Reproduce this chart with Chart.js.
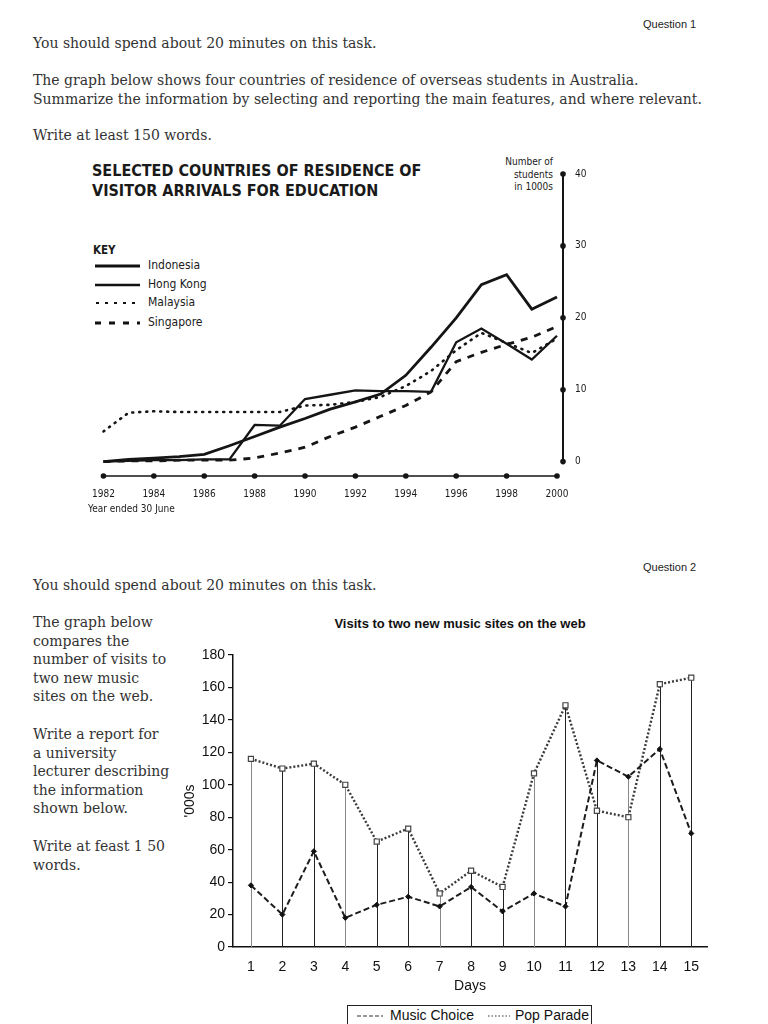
<!DOCTYPE html>
<html>
<head>
<meta charset="utf-8">
<script src="https://cdn.jsdelivr.net/npm/chart.js@4.4.1/dist/chart.umd.min.js"></script>
<style>
  html, body { margin: 0; padding: 0; background: #fff; }
  #page { position: relative; width: 768px; height: 1024px; overflow: hidden; }
  .t { position: absolute; white-space: nowrap; }
  .serif { font-family: "DejaVu Serif", serif; font-size: 14px; line-height: 18.6px; color: #333; }
  .qnum { font-family: "Liberation Sans", Arial, sans-serif; font-size: 11px; color: #222; }
  .c1 { font-family: "DejaVu Sans Condensed", "DejaVu Sans", sans-serif; color: #1a1a1a; }
  .key { position: absolute; left: 93px; font-family: "DejaVu Sans Condensed", "DejaVu Sans", sans-serif; font-size: 12px; color: #1a1a1a; }
  .key svg { position: absolute; left: 2px; top: 6px; }
  .key span { position: absolute; left: 55px; top: 0; white-space: nowrap; }
  canvas { position: absolute; }
  #legend2 { position: absolute; left: 347px; top: 1005px; width: 243px; height: 19px; border: 1px solid #222;
             font-family: "Liberation Sans", Arial, sans-serif; font-size: 14px; color: #111; }
  #legend2 svg { position: absolute; top: 9px; }
  #legend2 span { position: absolute; top: 1px; white-space: nowrap; }
</style>
</head>
<body>
<div id="page">
  <!-- question 1 -->
  <div class="t qnum" style="left:643px; top:18px;">Question 1</div>
  <div class="t serif" style="left:33px; top:34px;">You should spend about 20 minutes on this task.</div>
  <div class="t serif" style="left:33px; top:71px;">The graph below shows four countries of residence of overseas students in Australia.<br>Summarize the information by selecting and reporting the main features, and where relevant.</div>
  <div class="t serif" style="left:33px; top:126px;">Write at least 150 words.</div>

  <div class="t c1" style="left:92px; top:161px; font-size:16px; font-weight:bold; line-height:20px;">SELECTED COUNTRIES OF RESIDENCE OF<br>VISITOR ARRIVALS FOR EDUCATION</div>
  <div class="t c1" style="right:215px; top:156px; font-size:10px; line-height:12.5px; text-align:right;">Number of<br>students<br>in 1000s</div>
  <div class="t c1" style="left:93px; top:243px; font-size:11.5px; font-weight:bold;">KEY</div>
  <div class="key" style="top:258px;"><svg width="50" height="4"><line x1="0" y1="2" x2="45" y2="2" stroke="#111" stroke-width="3"/></svg><span>Indonesia</span></div>
  <div class="key" style="top:277px;"><svg width="50" height="4"><line x1="0" y1="2" x2="45" y2="2" stroke="#111" stroke-width="2.4"/></svg><span>Hong Kong</span></div>
  <div class="key" style="top:295px;"><svg width="50" height="4"><line x1="1" y1="2" x2="45" y2="2" stroke="#111" stroke-width="2.2" stroke-dasharray="3 6"/></svg><span>Malaysia</span></div>
  <div class="key" style="top:315px;"><svg width="50" height="4"><line x1="0" y1="2" x2="45" y2="2" stroke="#111" stroke-width="2.8" stroke-dasharray="6 8"/></svg><span>Singapore</span></div>
  <canvas id="chart1" width="520" height="375" style="left:80px; top:150px;"></canvas>
  <div class="t c1" style="left:88px; top:503px; font-size:10px;">Year ended 30 June</div>

  <!-- question 2 -->
  <div class="t qnum" style="left:643px; top:561px;">Question 2</div>
  <div class="t serif" style="left:33px; top:576px;">You should spend about 20 minutes on this task.</div>
  <div class="t serif" style="left:33px; top:613px;">The graph below<br>compares the<br>number of visits to<br>two new music<br>sites on the web.</div>
  <div class="t serif" style="left:33px; top:725px;">Write a report for<br>a university<br>lecturer describing<br>the information<br>shown below.</div>
  <div class="t serif" style="left:33px; top:837px;">Write at feast 1 50<br>words.</div>

  <div class="t" style="left:180px; width:560px; top:616px; text-align:center; font-family:'Liberation Sans', Arial, sans-serif; font-size:13px; font-weight:bold; color:#111;">Visits to two new music sites on the web</div>
  <canvas id="chart2" width="540" height="400" style="left:180px; top:600px;"></canvas>
  <div id="legend2">
    <svg width="30" height="3" style="left:9px;"><line x1="0" y1="1" x2="26" y2="1" stroke="#333" stroke-width="1.2" stroke-dasharray="4 2"/></svg>
    <span style="left:42px;">Music Choice</span>
    <svg width="30" height="3" style="left:140px;"><line x1="0" y1="1" x2="22" y2="1" stroke="#333" stroke-width="1.2" stroke-dasharray="1.5 2"/></svg>
    <span style="left:167px;">Pop Parade</span>
  </div>
</div>

<script>
// ---- chart 1: overseas students, thousands
const years = [1982, 1983, 1984, 1985, 1986, 1987, 1988, 1989, 1990, 1991,
               1992, 1993, 1994, 1995, 1996, 1997, 1998, 1999, 2000];
const indonesia = [0, 0.3, 0.5, 0.7, 1.0, 2.2, 3.5, 4.8, 6.0, 7.3, 8.3, 9.4, 12.0, 15.9, 20.0, 24.6, 26.0, 21.2, 22.9];
const hongKong  = [0, 0.1, 0.2, 0.2, 0.3, 0.3, 5.1, 5.0, 8.7, 9.3, 9.9, 9.8, 9.8, 9.7, 16.6, 18.5, 16.4, 14.2, 17.5];
const malaysia  = [4.2, 6.8, 7.0, 6.9, 6.9, 6.9, 6.9, 6.9, 7.8, 7.9, 8.3, 9.0, 10.5, 12.6, 15.5, 17.9, 16.5, 15.1, 17.1];
const singapore = [0, 0.1, 0.1, 0.2, 0.2, 0.2, 0.5, 1.2, 2.0, 3.5, 4.8, 6.3, 7.8, 9.7, 13.9, 15.2, 16.3, 17.3, 18.8];
const studentTicks = [0, 10, 20, 30, 40];

// ---- chart 2: visits, thousands
const days = [1, 2, 3, 4, 5, 6, 7, 8, 9, 10, 11, 12, 13, 14, 15];
const musicChoice = [38, 20, 59, 18, 26, 31, 25, 37, 22, 33, 25, 115, 105, 122, 70];
const popParade   = [116, 110, 113, 100, 65, 73, 33, 47, 37, 107, 149, 84, 80, 162, 166];
const visitTicks = [0, 20, 40, 60, 80, 100, 120, 140, 160, 180];

const ink = '#151515';

// dotted axes of the first chart
const dotAxes = {
    id: 'dotAxes',
    afterDraw(chart) {
        const {ctx, chartArea, scales: {x, y}} = chart;
        const dot = (px, py) => { ctx.beginPath(); ctx.arc(px, py, 2.8, 0, Math.PI * 2); ctx.fill(); };
        ctx.save();
        ctx.strokeStyle = ink;
        ctx.fillStyle = ink;
        ctx.lineWidth = 2;
        const ax = chartArea.right + 6;
        ctx.beginPath();
        ctx.moveTo(ax, y.getPixelForValue(0));
        ctx.lineTo(ax, y.getPixelForValue(40));
        ctx.stroke();
        studentTicks.forEach(v => dot(ax, y.getPixelForValue(v)));

        const by = chartArea.bottom;
        ctx.lineWidth = 1.6;
        ctx.beginPath();
        ctx.moveTo(x.getPixelForValue(0), by);
        ctx.lineTo(x.getPixelForValue(years.length - 1), by);
        ctx.stroke();
        years.forEach((yr, i) => { if (yr % 2 === 0) dot(x.getPixelForValue(i), by); });
        ctx.restore();
    }
};

const font1 = {family: '"DejaVu Sans Condensed", "DejaVu Sans", sans-serif', size: 10};

new Chart('chart1', {
    type: 'line',
    data: {
        labels: years,
        datasets: [
            {label: 'Indonesia', data: indonesia, borderColor: ink, borderWidth: 2.8},
            {label: 'Hong Kong', data: hongKong, borderColor: ink, borderWidth: 2.3},
            {label: 'Malaysia', data: malaysia, borderColor: ink, borderWidth: 2.6,
             borderDash: [1, 6], borderCapStyle: 'round'},
            {label: 'Singapore', data: singapore, borderColor: ink, borderWidth: 2.8,
             borderDash: [7, 7]}
        ]
    },
    options: {
        responsive: false,
        animation: false,
        layout: {padding: {left: 17, top: 13, right: 0, bottom: 0}},
        elements: {point: {radius: 0}, line: {tension: 0}},
        plugins: {legend: {display: false}, tooltip: {enabled: false}},
        scales: {
            x: {
                offset: false,
                grid: {display: false, drawTicks: false},
                border: {display: false},
                ticks: {
                    autoSkip: false, maxRotation: 0, padding: 12, color: '#1a1a1a', font: font1,
                    callback: (v, i) => years[i] % 2 === 0 ? years[i] : ''
                },
                afterFit: s => { s.height = 49; }
            },
            y: {
                position: 'right',
                min: -2, max: 40,
                afterBuildTicks: s => { s.ticks = studentTicks.map(v => ({value: v})); },
                grid: {display: false, drawTicks: false},
                border: {display: false},
                ticks: {padding: 18, color: '#1a1a1a', font: font1},
                afterFit: s => { s.width = 43; }
            }
        }
    },
    plugins: [dotAxes]
});

// drop lines from the higher point of each day down to the axis
const dropLines = {
    id: 'dropLines',
    beforeDatasetsDraw(chart) {
        const {ctx, scales: {x, y}} = chart;
        const sets = chart.data.datasets;
        ctx.save();
        ctx.lineWidth = 1;
        days.forEach((d, i) => {
            const top = Math.max(...sets.map(s => s.data[i].y));
            ctx.strokeStyle = i % 3 === 0 ? '#888' : '#222';
            const px = Math.round(x.getPixelForValue(d)) + 0.5;
            ctx.beginPath();
            ctx.moveTo(px, y.getPixelForValue(0));
            ctx.lineTo(px, y.getPixelForValue(top));
            ctx.stroke();
        });
        ctx.restore();
    }
};

const font2 = {family: '"Liberation Sans", Arial, sans-serif', size: 14};

new Chart('chart2', {
    type: 'line',
    data: {
        datasets: [
            {label: 'Music Choice', data: days.map((d, i) => ({x: d, y: musicChoice[i]})),
             borderColor: '#1c1c1c', borderWidth: 2, borderDash: [6, 3],
             pointStyle: 'rectRot', pointRadius: 2.6, pointBackgroundColor: '#111', pointBorderColor: '#111', pointBorderWidth: 1},
            {label: 'Pop Parade', data: days.map((d, i) => ({x: d, y: popParade[i]})),
             borderColor: '#3a3a3a', borderWidth: 2.4, borderDash: [2, 2],
             pointStyle: 'rect', pointRadius: 3.6, pointBackgroundColor: '#fff', pointBorderColor: '#444', pointBorderWidth: 1.2}
        ]
    },
    options: {
        responsive: false,
        animation: false,
        layout: {padding: {left: 0, top: 55, right: 13, bottom: 0}},
        elements: {line: {tension: 0}},
        plugins: {legend: {display: false}, tooltip: {enabled: false}},
        scales: {
            x: {
                type: 'linear',
                min: 0.43, max: 15.5,
                afterBuildTicks: s => { s.ticks = days.map(v => ({value: v})); },
                grid: {display: false, drawTicks: false},
                border: {display: true, color: '#111', width: 1.5},
                ticks: {padding: 12, color: '#111', font: font2},
                title: {display: true, text: 'Days', color: '#111', font: font2, padding: {top: 0, bottom: 5}},
                afterFit: s => { s.height = 53; }
            },
            y: {
                min: 0, max: 180,
                afterBuildTicks: s => { s.ticks = visitTicks.map(v => ({value: v})); },
                grid: {drawOnChartArea: false, drawTicks: true, tickLength: 5, color: '#111', lineWidth: 1.2},
                border: {display: true, color: '#111', width: 1.5},
                ticks: {padding: 3, color: '#111', font: font2},
                title: {display: true, text: "'000s", color: '#111', font: font2, padding: {top: 2, bottom: 0}},
                afterFit: s => { s.width = 53; }
            }
        }
    },
    plugins: [dropLines]
});
</script>
</body>
</html>
